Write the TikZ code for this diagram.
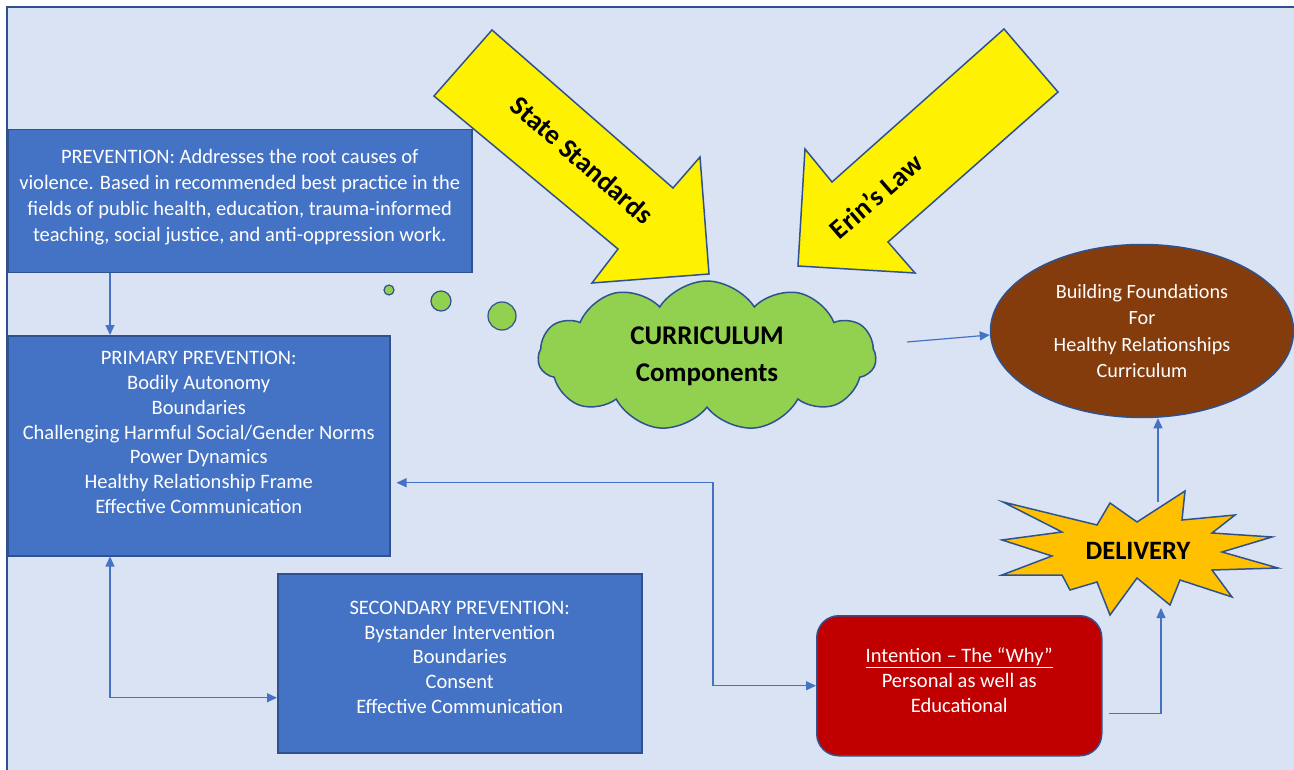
\documentclass[tikz,border=0pt]{standalone}
\usepackage{fontspec}
\setmainfont{Carlito}
\usetikzlibrary{shapes.symbols,shapes.geometric,arrows.meta,positioning}

\definecolor{bgblue}{HTML}{DAE3F3}
\definecolor{edgeblue}{HTML}{2F528F}
\definecolor{boxblue}{HTML}{4472C4}
\definecolor{cloudgreen}{HTML}{92D050}
\definecolor{foundbrown}{HTML}{843C0C}
\definecolor{stargold}{HTML}{FFC000}
\definecolor{whyred}{HTML}{C00000}

\begin{document}
\begin{tikzpicture}[x=1pt,y=-1pt,
    boxnode/.style={draw=edgeblue, line width=1.5pt, fill=boxblue, text=white,
        align=center, anchor=north west, inner sep=0pt,
        font=\fontsize{20.5}{24.8}\selectfont},
    link/.style={draw=boxblue, line width=1.2pt, -{Triangle[length=10pt,width=9pt]}},
    twoway/.style={link, {Triangle[length=10pt,width=9pt]}-{Triangle[length=10pt,width=9pt]}},
    bigarrow/.style={draw=edgeblue, line width=1.5pt, fill=yellow, line join=miter},
    bubble/.style={circle, draw=edgeblue, line width=1.2pt, fill=cloudgreen, inner sep=0pt},
    arrowtext/.style={font=\bfseries\fontsize{27.5}{30}\selectfont}]

    \useasboundingbox (0,0) rectangle (1294,770);
    \fill[white] (0,0) rectangle (1294,770);
    \fill[bgblue] (7,7) rectangle (1294,770);
    \draw[edgeblue, line width=1.5pt] (7,770) -- (7,7) -- (1294,7);

    % boxes on the left
    \node[boxnode, minimum width=464, minimum height=143,
        font=\fontsize{20.5}{26}\selectfont] (prev) at (7,129)
        {PREVENTION: Addresses the root causes of\\
         violence. Based in recommended best practice in the\\
         fields of public health, education, trauma-informed\\
         teaching, social justice, and anti-oppression work.\\[-14pt]};
    \node[boxnode, minimum width=382, minimum height=220] (prim) at (7,335)
        {PRIMARY PREVENTION:\\ Bodily Autonomy\\ Boundaries\\
         Challenging Harmful Social/Gender Norms\\ Power Dynamics\\
         Healthy Relationship Frame\\ Effective Communication\\[2pt]};
    \node[boxnode, minimum width=364, minimum height=179] (sec) at (277,573)
        {SECONDARY PREVENTION:\\ Bystander Intervention\\ Boundaries\\
         Consent\\ Effective Communication\\[-12.6pt]};
    \node[boxnode, fill=whyred, rounded corners=22pt, minimum width=285, minimum height=140,
        font=\fontsize{20.5}{25}\selectfont] (intent) at (816,615)
        {\underline{Intention -- The “Why”}\\ Personal as well as\\ Educational\\[-13pt]};

    % yellow arrows
    \draw[bigarrow] (492,30) -- (434,96) -- (618,249) -- (592,283) -- (709,274)
        -- (700,157) -- (673,188) -- cycle;
    \draw[bigarrow] (1004,29) -- (1058,92) -- (888,242) -- (915,273) -- (798,266)
        -- (805,149) -- (832,182) -- cycle;
    \node[arrowtext, rotate=-41] (state) at (582,160) {State Standards};
    \node[arrowtext, rotate=41] (erin) at (876,196) {Erin’s Law};

    % thought cloud
    \node[bubble, minimum size=10] (bub1) at (389,290) {};
    \node[bubble, minimum size=20] (bub2) at (441,301) {};
    \node[bubble, minimum size=28] (bub3) at (502,316) {};
    \node[cloud, cloud puffs=11, cloud puff arc=115, cloud ignores aspect,
        draw=edgeblue, line width=1.5pt, fill=cloudgreen, inner sep=0pt,
        minimum width=338, minimum height=150, align=center,
        font=\bfseries\fontsize{27}{37}\selectfont] (curr) at (707,356)
        {CURRICULUM\\ Components};

    % goal
    \node[ellipse, draw=edgeblue, line width=1.5pt, fill=foundbrown, text=white,
        minimum width=303, minimum height=173, inner sep=0pt, align=center,
        font=\fontsize{20.2}{26.3}\selectfont] (found) at (1142,331)
        {Building Foundations\\ For\\ Healthy Relationships\\ Curriculum};

    % delivery star
    \draw[edgeblue, line width=1.5pt, fill=stargold, line join=miter]
        (1003,502) -- (1097,525) -- (1110,503) -- (1137,522) -- (1185,491)
        -- (1182,520) -- (1235,515) -- (1212,533) -- (1272,537) -- (1222,552)
        -- (1278,568) -- (1212,570) -- (1232,597) -- (1180,580) -- (1170,605)
        -- (1137,578) -- (1110,615) -- (1097,582) -- (1070,590) -- (1062,575)
        -- (1002,575) -- (1052,556) -- (1002,540) -- (1062,532) -- cycle;
    \node[font=\bfseries\fontsize{26.5}{30}\selectfont] (deliv) at (1138,551) {DELIVERY};
    \coordinate (startop) at (1158,502);
    \coordinate (starbot) at (1161,608);
    \coordinate (cloudout) at (907,342);

    % connectors
    \draw[link] ([xshift=103pt]prev.south west) -- ([xshift=103pt]prim.north west);
    \draw[twoway] ([xshift=103pt]prim.south west) |- ([yshift=-34.5pt]sec.west);
    \draw[twoway] ([xshift=6pt,yshift=-37pt]prim.east) -| ([xshift=-103pt]intent.west) -- (intent.west);
    \draw[link] ([xshift=6pt,yshift=-28pt]intent.east) -| (starbot);
    \draw[link] (startop) -- (startop |- found.south);
    \draw[link] (cloudout) -- ([yshift=-4pt]found.west);
\end{tikzpicture}
\end{document}
